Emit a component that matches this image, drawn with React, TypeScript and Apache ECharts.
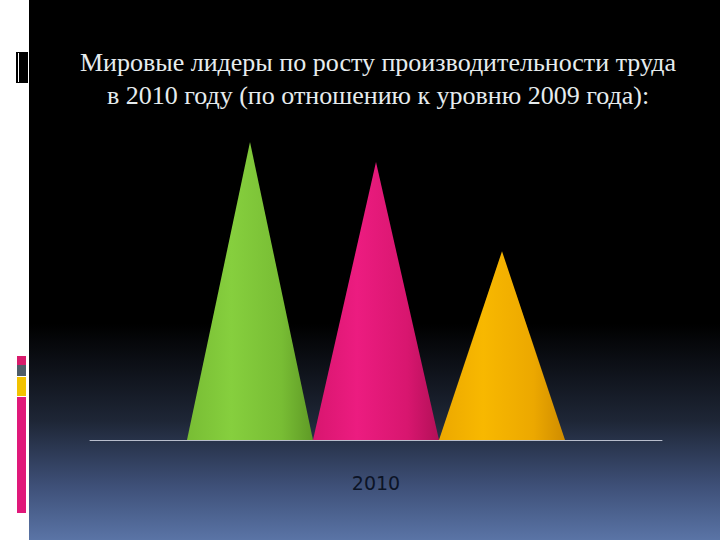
import React, { useEffect, useRef } from "react";
import * as echarts from "echarts";

const titleLines = [
  "Мировые лидеры по росту производительности труда",
  "в 2010 году (по отношению к уровню 2009 года):",
];
const categories = ["2010"];
const seriesNames = ["Лидер 1", "Лидер 2", "Лидер 3"];
const seriesValues = [12.0, 11.2, 7.6];
const seriesColors = [
  ["#86cf3e", "#78bd34", "#5f9a26"],
  ["#ec1c80", "#d8166f", "#b31058"],
  ["#f8b800", "#eca800", "#cf8c00"],
];

export default function App() {
  const ref = useRef<HTMLDivElement>(null);
  useEffect(() => {
    document.body.style.margin = "0";
    if (!ref.current) return;
    const chart = echarts.init(ref.current, null, { renderer: "svg" });
    const series = seriesNames.map((name, i) => ({
      name,
      type: "pictorialBar",
      symbol: "triangle",
      symbolSize: ["100%", "100%"],
      barWidth: 126,
      barGap: "0%",
      z: 5,
      itemStyle: {
        color: new echarts.graphic.LinearGradient(0, 0, 1, 0, [
          { offset: 0, color: seriesColors[i][1] },
          { offset: 0.35, color: seriesColors[i][0] },
          { offset: 0.75, color: seriesColors[i][1] },
          { offset: 1, color: seriesColors[i][2] },
        ]),
      },
      data: [seriesValues[i]],
    }));
    const titleStyle = (text: string) => ({
      text,
      fill: "#e6ecee",
      font: '26px "Liberation Serif"',
      textAlign: "center",
      textVerticalAlign: "middle",
    });
    chart.setOption({
      animation: false,
      backgroundColor: "#ffffff",
      graphic: [
        {
          type: "rect",
          z: -10,
          silent: true,
          shape: { x: 29, y: 0, width: 691, height: 540 },
          style: {
            fill: new echarts.graphic.LinearGradient(0, 0, 0, 1, [
              { offset: 0, color: "#000000" },
              { offset: 0.6, color: "#000000" },
              { offset: 0.78, color: "#1e2636" },
              { offset: 0.9, color: "#3e5078" },
              { offset: 1, color: "#5a74a6" },
            ]),
          },
        },
        { type: "rect", z: -5, shape: { x: 16, y: 52, width: 12, height: 31 }, style: { fill: "#000000" } },
        { type: "rect", z: -4, shape: { x: 18, y: 53, width: 1, height: 29 }, style: { fill: "#ffffff" } },
        { type: "rect", z: -5, shape: { x: 17, y: 356, width: 9, height: 9 }, style: { fill: "#d81b6c" } },
        { type: "rect", z: -5, shape: { x: 17, y: 365, width: 9, height: 11 }, style: { fill: "#4e5c68" } },
        { type: "rect", z: -5, shape: { x: 17, y: 377, width: 9, height: 19 }, style: { fill: "#f2c200" } },
        { type: "rect", z: -5, shape: { x: 17, y: 397, width: 9, height: 116 }, style: { fill: "#e0187a" } },
        { type: "text", z: 10, x: 378, y: 62, style: titleStyle(titleLines[0]) },
        { type: "text", z: 10, x: 378, y: 95, style: titleStyle(titleLines[1]) },
      ],
      grid: { left: 90, right: 58, top: 142, bottom: 100 },
      xAxis: {
        type: "category",
        data: categories,
        axisLine: { show: true, lineStyle: { color: "#b8bdcc", width: 1 } },
        axisTick: { show: false },
        axisLabel: {
          margin: 33,
          color: "#0c1426",
          fontSize: 19,
          fontFamily: "DejaVu Sans",
        },
      },
      yAxis: {
        type: "value",
        min: 0,
        max: 12,
        show: false,
        splitLine: { show: false },
      },
      series,
    });
    return () => chart.dispose();
  }, []);
  return <div ref={ref} style={{ width: 720, height: 540 }} />;
}
